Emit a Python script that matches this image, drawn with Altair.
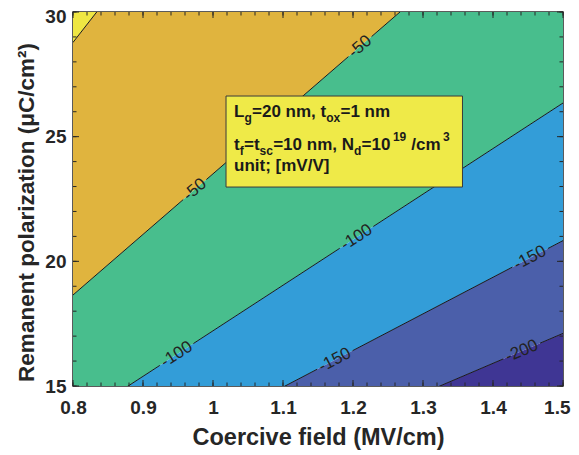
import altair as alt
import pandas as pd
import numpy as np

# ---------------- data ----------------
x_min, x_max = 0.8, 1.5
y_min, y_max = 15, 30

# contour lines: polarization at x = 0.8 and at x = 1.5 (extrapolated past the frame)
line_names = ["c0", "-50", "-100", "-150", "-200"]
line_y_left = [28.78, 18.65, 13.56, 10.55, 8.71]
line_y_right = [53.98, 35.66, 26.35, 20.83, 17.11]

band_names = ["b0", "b1", "b2", "b3", "b4", "b5"]
band_colors = ["#EFE743", "#E0B43E", "#48BE8D", "#339DD8", "#4B5FAA", "#3F3694"]

# contour labels: text, line, x position along the line
label_text = ["-50", "-50", "-100", "-100", "-150", "-150", "-200"]
label_line = [1, 1, 2, 2, 3, 3, 4]
label_x = [1.21, 0.974, 1.205, 0.948, 1.453, 1.174, 1.441]

x_major = [0.8, 0.9, 1.0, 1.1, 1.2, 1.3, 1.4, 1.5]
x_minor = [round(0.8 + 0.02 * i, 2) for i in range(36)]
y_major = [15, 20, 25, 30]
y_minor = list(range(15, 31))

# annotation box (data units)
box = pd.DataFrame({"x": [1.0186], "x2": [1.3564], "y": [22.98], "y2": [26.63]})
# annotation lines: pieces (text, kind) with kind n = normal, b = subscript, p = superscript
note_lines = [
    [("L", "n"), ("g", "b"), ("=20 nm, t", "n"), ("ox", "b"), ("=1 nm", "n")],
    [("t", "n"), ("f", "b"), ("=t", "n"), ("sc", "b"), ("=10 nm, N", "n"), ("d", "b"),
     ("=10", "n"), ("19", "p"), (" /cm", "n"), ("3", "p")],
    [("unit; [mV/V]", "n")],
]
note_baseline = [25.79, 24.46, 23.62]   # polarization units
note_start = 1.0300                     # coercive field units

# ---------------- layout ----------------
W, H = 490, 374
FONT = "Liberation Sans"
INK = "#262626"
LABEL_FS = 17
MAIN_FS, SUB_FS = 17, 12
px_per_x = W / (x_max - x_min)
px_per_y = H / (y_max - y_min)

# Arial/Liberation Sans Bold advance widths (per 1000 em)
ADV = {" ": 278, ",": 278, "/": 278, ";": 333, "=": 584, "L": 611, "N": 722, "V": 667,
       "[": 333, "]": 333, "c": 556, "d": 611, "f": 333, "g": 611, "i": 278, "m": 889,
       "n": 611, "o": 611, "s": 556, "t": 333, "u": 611, "x": 556}


def text_w(s, fs):
    return sum(ADV.get(ch, 556) for ch in s) / 1000 * fs


def line_y(i, x):
    return line_y_left[i] + (line_y_right[i] - line_y_left[i]) * (x - x_min) / (x_max - x_min)


uppers = [60.0] + line_y_left
lowers = line_y_left + [0.0]
uppers_r = [60.0] + line_y_right
lowers_r = line_y_right + [0.0]
band_rows = []
for k, b in enumerate(band_names):
    band_rows.append({"band": b, "x": x_min, "lo": lowers[k], "hi": uppers[k]})
    band_rows.append({"band": b, "x": x_max, "lo": lowers_r[k], "hi": uppers_r[k]})
bands = pd.DataFrame(band_rows)

lab_rows = []
for t, li, lx in zip(label_text, label_line, label_x):
    slope_px = (line_y_right[li] - line_y_left[li]) / (x_max - x_min) * px_per_y / px_per_x
    ang = np.degrees(np.arctan(slope_px))
    lab_rows.append({"text": t, "line": li, "x": lx, "y": line_y(li, lx),
                     "angle": 360 - ang, "theta": ang})
labels = pd.DataFrame(lab_rows)

seg_rows = []
for li, name in enumerate(line_names):
    cuts = [x_min]
    for r in sorted([r for r in lab_rows if r["line"] == li], key=lambda r: r["x"]):
        w = LABEL_FS * (0.333 + 0.556 * (len(r["text"]) - 1))
        half = (w / 2 + 3) * np.cos(np.radians(r["theta"])) / px_per_x
        cuts += [r["x"] - half, r["x"] + half]
    cuts.append(x_max)
    for s in range(0, len(cuts), 2):
        seg = f"{name}_{s}"
        for xx in (cuts[s], cuts[s + 1]):
            seg_rows.append({"seg": seg, "x": xx, "y": line_y(li, xx)})
segs = pd.DataFrame(seg_rows)

piece_rows = []
for pieces_, base in zip(note_lines, note_baseline):
    cur = 0.0
    for txt, kind in pieces_:
        fs = MAIN_FS if kind == "n" else SUB_FS
        if kind == "p":
            cur += 2.5
        lead = len(txt) - len(txt.lstrip(" "))
        cur += text_w(" " * lead, fs)
        body = txt.lstrip(" ")
        dy = {"n": 0.0, "b": 5.0, "p": -9.5}[kind]
        piece_rows.append({"text": body, "x": note_start + cur / px_per_x,
                           "y": base - dy / px_per_y, "size": fs})
        cur += text_w(body, fs) + (0.3 if kind != "n" else 0.0)
pieces = pd.DataFrame(piece_rows)

xs = alt.Scale(domain=[x_min, x_max], nice=False, zero=False)
ys = alt.Scale(domain=[y_min, y_max], nice=False, zero=False)

X_TITLE = "Coercive field (MV/cm)"
Y_TITLE = "Remanent polarization (μC/cm²)"
x_axis = alt.Axis(values=x_major, format="~g", ticks=False, domain=False, grid=False,
                  labelFlush=False, labelOverlap=False,
                  labelAlign={"condition": {"test": "datum.value >= 1.5", "value": "right"},
                              "value": "center"},
                  labelOffset={"condition": {"test": "datum.value >= 1.5", "value": 7},
                               "value": 0},
                  labelFont=FONT, labelFontSize=19, labelFontWeight="bold", labelColor=INK,
                  labelPadding=12, titleFont=FONT,
                  titleFontSize=23.5, titleFontWeight="bold", titleColor=INK, titlePadding=8)
y_axis = alt.Axis(values=y_major, format="d", ticks=False, domain=False, grid=False,
                  labelFlush=False, labelOverlap=False,
                  labelOffset={"condition": {"test": "datum.value == 30", "value": 4}, "value": 0},
                  labelFont=FONT, labelFontSize=19, labelFontWeight="bold", labelColor=INK,
                  labelPadding=7, titleFont=FONT, titleY=200,
                  titleFontSize=22.5, titleFontWeight="bold", titleColor=INK, titlePadding=6)


def X(field):
    return alt.X(field, scale=xs, axis=x_axis, title=X_TITLE)


def Y(field):
    return alt.Y(field, scale=ys, axis=y_axis, title=Y_TITLE)


area = alt.Chart(bands).mark_area(clip=True).encode(
    x=X("x:Q"), y=Y("lo:Q"), y2="hi:Q",
    color=alt.Color("band:N", scale=alt.Scale(domain=band_names, range=band_colors), legend=None),
)

lines = alt.Chart(segs).mark_line(clip=True, color="#1a1a1a", strokeWidth=1).encode(
    x=X("x:Q"), y=Y("y:Q"), detail="seg:N",
)

label_marks = alt.Chart(labels).mark_text(font=FONT, fontSize=LABEL_FS, color="#222222",
                                          align="center", baseline="middle").encode(
    x=X("x:Q"), y=Y("y:Q"), text="text:N",
    angle=alt.Angle("angle:Q", scale=None),
)

box_mark = alt.Chart(box).mark_rect(fill="#EFEA48", stroke="#3a3a3a", strokeWidth=1).encode(
    x=X("x:Q"), x2="x2:Q", y=Y("y:Q"), y2="y2:Q",
)

text_mark = alt.Chart(pieces).mark_text(font=FONT, fontWeight="bold", color="#1a1a1a",
                                        align="left", baseline="alphabetic").encode(
    x=X("x:Q"), y=Y("y:Q"), text="text:N",
    size=alt.Size("size:Q", scale=None),
)


def xticks(vals, length):
    d = pd.DataFrame({"v": vals})
    bot = alt.Chart(d).mark_rule(color=INK, strokeWidth=1).encode(
        x=X("v:Q"), y=alt.value(H), y2=alt.value(H - length))
    top = alt.Chart(d).mark_rule(color=INK, strokeWidth=1).encode(
        x=X("v:Q"), y=alt.value(0), y2=alt.value(length))
    return [bot, top]


def yticks(vals, length):
    d = pd.DataFrame({"v": vals})
    left = alt.Chart(d).mark_rule(color=INK, strokeWidth=1).encode(
        y=Y("v:Q"), x=alt.value(0), x2=alt.value(length))
    right = alt.Chart(d).mark_rule(color=INK, strokeWidth=1).encode(
        y=Y("v:Q"), x=alt.value(W), x2=alt.value(W - length))
    return [left, right]


tick_layers = xticks(x_minor, 3.5) + xticks(x_major, 6) + yticks(y_minor, 3.5) + yticks(y_major, 6)

chart = alt.layer(area, lines, label_marks, box_mark, text_mark, *tick_layers).properties(
    width=W, height=H,
    autosize=alt.AutoSizeParams(type="none"),
    padding={"left": 65, "top": 4, "right": 8, "bottom": 67},
    background="white",
).configure_view(stroke=INK, strokeWidth=1.5)

chart.save("out.html", embed_options={"renderer": "svg", "actions": False})
